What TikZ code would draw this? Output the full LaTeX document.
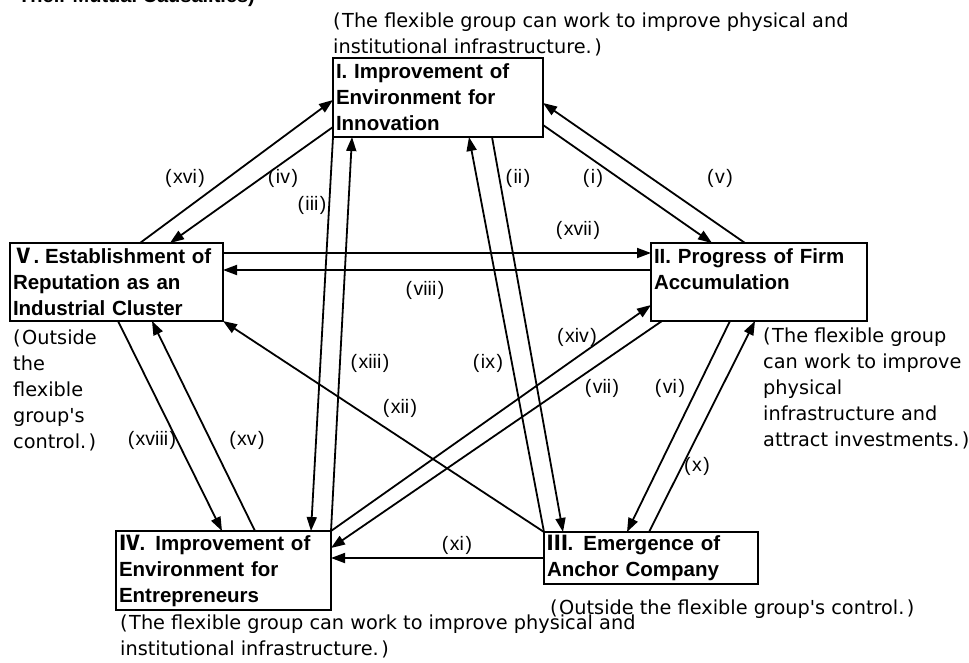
\documentclass[tikz,border=0pt]{standalone}
\usepackage{fontspec}
\setmainfont{Liberation Sans}
\newfontfamily\notefont{DejaVu Sans}
\newfontfamily\cjkfont{Noto Sans CJK JP}
\usetikzlibrary{arrows.meta,calc}
% parentheses with a little air, as in the labels and notes
\newcommand{\op}{(\kern1.5pt}
\newcommand{\cp}{\kern1.5pt)}
\newcommand{\nop}{(\kern1.5pt}
\newcommand{\ncp}{\kern2.5pt)}
\newcommand{\rn}[1]{{\cjkfont #1}}
\begin{document}
\begin{tikzpicture}[x=1pt,y=-1pt,
  box/.style={draw, line width=2.6pt, rectangle, anchor=north west, outer sep=0pt,
    align=left, inner xsep=3pt, inner ysep=0pt,
    font=\fontsize{20.5}{26}\selectfont\bfseries},
  arr/.style={line width=1.8pt, -{Triangle[length=14pt,width=10pt]}},
  lab/.style={font=\fontsize{19.5}{26}\selectfont, inner sep=0pt},
  note/.style={font=\notefont\fontsize{19.3}{26}\selectfont, align=left, anchor=north west, inner sep=0pt}]
\clip (0,0) rectangle (969,662);

% heading line, cut by the page edge
\node[anchor=base west, inner sep=0pt, font=\fontsize{20}{26}\selectfont\bfseries] (head) at (18,2) {Their Mutual Causalities)};

% the five stages
\node[box, minimum width=210pt, text width=204pt, minimum height=79pt] (I) at (333,58)
  {\mbox{I. Improvement of}\\Environment for\\Innovation};
\node[box, minimum width=216pt, text width=210pt, minimum height=78pt] (II) at (651,243)
  {\mbox{II. Progress of Firm}\\Accumulation\\\mbox{}};
\node[box, minimum width=214pt, text width=208pt, minimum height=52pt] (III) at (544,532)
  {\mbox{\rn{Ⅲ}. Emergence of}\\Anchor Company};
\node[box, minimum width=215pt, text width=209pt, minimum height=79pt] (IV) at (116,531)
  {\mbox{\rn{Ⅳ}. Improvement of}\\Environment for\\Entrepreneurs};
\node[box, minimum width=213pt, text width=207pt, minimum height=78pt] (V) at (10,243)
  {\mbox{\rn{Ⅴ}.\kern-1pt\ Establishment of}\\Reputation as an\\Industrial Cluster};

% notes on what the flexible group can influence
\node[note] (nI) at (333,8.8) {\strut\nop The flexible group can work to improve physical and\\institutional infrastructure.\ncp};
\node[note] (nII) at (763,323.8) {\strut\nop The flexible group\\can work to improve\\physical\\infrastructure and\\attract investments.\ncp};
\node[note] (nIII) at (550,596) {\strut\nop Outside the flexible group\textquotesingle s control.\ncp};
\node[note] (nIV) at (120,611.3) {\strut\nop The flexible group can work to improve physical and\\institutional infrastructure.\ncp};
\node[note] (nV) at (13,325.8) {\strut\nop Outside\\the\\flexible\\group\textquotesingle s\\control.\ncp};

% causal links
\draw[arr] ($(V.north west)+(130,0)$) -- ($(I.north west)+(0,42)$);
\draw[arr] ($(I.north west)+(0,69)$) -- ($(V.north west)+(160,0)$);
\draw[arr] ($(II.north west)+(94,0)$) -- ($(I.north east)+(0,45)$);
\draw[arr] ($(I.north east)+(0,67)$) -- ($(II.north west)+(61,0)$);
\draw[arr] ($(V.north east)+(0,10)$) -- ($(II.north west)+(0,10)$);
\draw[arr] ($(II.north west)+(0,27)$) -- ($(V.north east)+(0,27)$);
\draw[arr] (I.south west) -- ($(IV.north west)+(195,0)$);
\draw[arr] (IV.north east) -- ($(I.south west)+(19,0)$);
\draw[arr] ($(I.south west)+(159,0)$) -- ($(III.north west)+(19,0)$);
\draw[arr] (III.north west) -- ($(I.south west)+(136,0)$);
\draw[arr] ($(II.south west)+(79,0)$) -- ($(III.north west)+(83,0)$);
\draw[arr] ($(III.north west)+(105,0)$) -- ($(II.south west)+(104,0)$);
\draw[arr] (IV.north east) -- ($(II.south west)+(0,-16)$);
\draw[arr] ($(II.south west)+(11,0)$) -- ($(IV.north east)+(0,17)$);
\draw[arr] (III.north west) -- (V.south east);
\draw[arr] ($(V.south west)+(108,0)$) -- ($(IV.north west)+(106,0)$);
\draw[arr] ($(IV.north west)+(139,0)$) -- ($(V.south west)+(142,0)$);
\draw[arr] ($(III.north west)+(0,26)$) -- ($(IV.north east)+(0,27)$);

% link labels
\node[lab] (l1) at (593,178) {\op i\cp};
\node[lab] (l2) at (518,178) {\op ii\cp};
\node[lab] (l3) at (312,205) {\op iii\cp};
\node[lab] (l4) at (283,178) {\op iv\cp};
\node[lab] (l5) at (720,178) {\op v\cp};
\node[lab] (l6) at (670,388) {\op vi\cp};
\node[lab] (l7) at (602,388) {\op vii\cp};
\node[lab] (l8) at (425,290) {\op viii\cp};
\node[lab] (l9) at (488,363) {\op ix\cp};
\node[lab] (l10) at (697,466) {\op x\cp};
\node[lab] (l11) at (457,545) {\op xi\cp};
\node[lab] (l12) at (400,408) {\op xii\cp};
\node[lab] (l13) at (370,363) {\op xiii\cp};
\node[lab] (l14) at (577,337) {\op xiv\cp};
\node[lab] (l15) at (247,440) {\op xv\cp};
\node[lab] (l16) at (185,178) {\op xvi\cp};
\node[lab] (l17) at (578,230) {\op xvii\cp};
\node[lab] (l18) at (152,440) {\op xviii\cp};
\end{tikzpicture}
\end{document}
